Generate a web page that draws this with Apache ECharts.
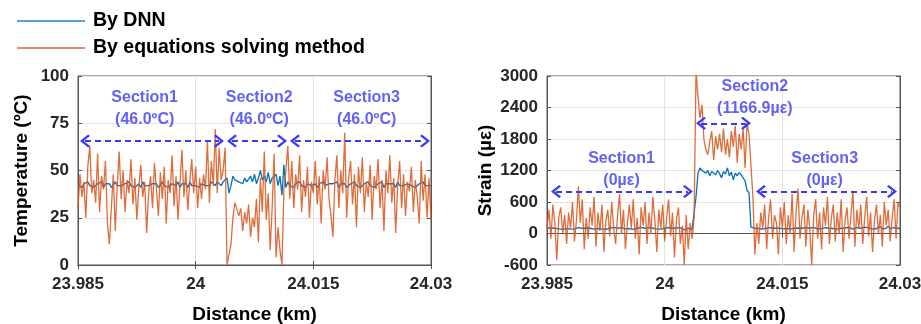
<!DOCTYPE html>
<html>
<head>
<meta charset="utf-8">
<script src="https://cdn.jsdelivr.net/npm/echarts@6/dist/echarts.min.js"></script>
<style>
  html, body { margin: 0; padding: 0; background: #fff; }
  #chart { width: 921px; height: 324px; }
</style>
</head>
<body>
<div id="chart"></div>
<script>
// Sampling grid along the fibre (km)
const distStart = 23.985;
const distStep = 0.00025;
const distTicks = ['23.985', '24', '24.015', '24.03'];
const tempTicks = ['0', '25', '50', '75', '100'];
const strainTicks = ['-600', '0', '600', '1200', '1800', '2400', '3000'];

// Temperature (°C) — DNN
const tempDnn = [
  42,43,41,43,42,44,42,43,41,42,
  43,42,44,41,43,42,43,41,42,44,
  42,43,42,41,43,42,44,42,43,41,
  42,43,41,44,42,43,42,41,43,42,
  43,41,42,44,42,43,41,42,43,42,
  42,44,41,43,42,43,41,44,42,43,
  42,43,41,43,44,42,43,42,44,43,
  42,44,43,42,44,45,46,38,42,47,
  45,46,44,45,43,46,44,45,47,44,
  48,43,46,50,45,47,44,49,43,46,
  45,48,42,47,37,53,41,44,42,43,
  41,43,42,44,42,43,41,43,42,42,
  42,43,41,43,42,44,42,41,43,42,
  43,42,44,41,43,42,43,41,42,43,
  42,44,42,43,41,42,43,42,44,42,
  43,41,42,43,42,44,41,43,42,43,
  42,43,41,44,42,43,42,41,43,44,
  42,43,41,42,43,42,44,42,43,42,42
];

// Temperature (°C) — equations solving method
const tempEq = [
  30,48,36,44,25,52,63,38,45,33,
  59,28,47,40,55,22,11,30,48,18,
  42,60,35,50,28,45,38,56,32,46,
  24,41,53,36,44,17,38,47,30,54,
  40,26,49,35,52,22,45,38,58,31,
  47,24,43,61,36,50,29,44,56,38,
  52,30,46,35,48,40,66,33,55,42,
  72,38,62,45,50,62,0,0,11,25,
  33,34,26,30,18,28,22,32,15,25,
  20,35,12,46,28,60,24,38,8,30,
  59,4,20,8,0,40,50,63,35,55,
  30,48,40,58,28,45,36,52,25,44,
  38,55,32,47,22,50,40,57,35,26,
  15,45,58,30,50,38,70,25,46,55,
  32,48,20,52,38,57,28,44,36,53,
  24,47,40,56,30,45,18,50,38,58,
  33,46,17,42,55,30,48,26,44,39,
  52,28,45,36,22,55,34,48,25,46,24
];

// Strain (µε) — DNN
const strainDnn = [
  100,90,110,80,100,120,90,100,80,110,
  95,100,85,115,90,100,110,80,100,95,
  105,90,100,120,85,100,95,110,90,100,
  80,105,100,90,115,95,100,85,110,100,
  90,120,95,100,80,105,100,90,115,95,
  100,85,110,95,100,120,90,100,85,105,
  100,90,110,95,100,80,105,95,110,90,
  70,85,100,90,80,95,700,1150,1250,1200,
  1230,1150,1200,1100,1180,1150,1120,1200,1140,1060,
  1180,1130,1250,1100,1170,1020,1150,1100,1160,1120,
  1150,1000,820,780,120,90,100,110,95,100,
  85,105,100,90,110,95,100,80,105,100,
  90,110,95,100,85,115,100,90,105,95,
  100,80,110,95,100,90,115,100,85,105,
  95,100,110,90,100,120,95,100,85,110,
  100,90,105,95,115,100,85,100,110,90,
  100,95,120,90,105,100,85,110,95,100,
  130,90,105,100,140,95,100,110,90,100,95
];

// Strain (µε) — equations solving method
const strainEq = [
  100,450,-100,550,200,-500,300,500,0,350,
  -200,400,100,600,-150,250,900,200,650,-300,
  300,-100,500,150,700,-250,400,50,550,-350,
  250,450,-50,600,100,-200,350,750,0,450,
  -300,200,550,100,650,-100,300,-400,500,150,
  600,-200,400,0,700,250,-350,450,100,550,
  -150,300,650,-50,400,-450,250,500,-200,150,
  -600,350,-300,200,-100,300,3100,2600,2200,2450,
  1800,1600,1500,1750,1950,1400,1850,1600,1900,1550,
  2000,1500,1800,1450,1950,1650,2050,1350,1900,1600,
  2000,1250,2100,1900,1300,700,-400,200,-200,400,
  100,550,-300,300,650,-100,350,200,-400,500,
  100,600,-200,350,0,750,-350,400,850,-100,
  300,550,-250,450,100,-600,350,650,-100,400,
  -300,500,150,700,-200,300,550,-150,400,0,
  650,-350,250,500,-100,350,800,-250,450,100,
  550,-200,300,700,-50,400,-350,250,550,0,
  350,-250,600,150,450,-150,300,650,-100,600,500
];

// Section annotations: [label line 1, line 2, label x, label y]
const tempSections = [
  ['Section1', '(46.0ºC)', 23.9935, 83],
  ['Section2', '(46.0ºC)', 24.0081, 83],
  ['Section3', '(46.0ºC)', 24.0218, 83]
];
// Dashed double arrows: [from, to] in km, at a common temperature level
const tempArrows = [[23.98589, 24.00297], [24.00463, 24.01101], [24.01266, 24.02924]];
const tempArrowLevel = 65.6;

const strainSections = [
  ['Section1', '(0µε)', 23.9945, 1215],
  ['Section2', '(1166.9µε)', 24.0115, 2590],
  ['Section3', '(0µε)', 24.0204, 1215]
];
// Dashed double arrows: [from, to, strain level]
const strainArrows = [[23.98615, 24.00297, 800], [24.00463, 24.01037, 2100], [24.01228, 24.02898, 800]];

const BLUE = '#0072BD';
const ORANGE = '#D95319';
const NOTE = '#3a3af5';
const FONT = 'Liberation Sans, Arial, sans-serif';

const pairs = ys => ys.map((v, i) => [distStart + i * distStep, v]);

const chevron = 'path://M0,10 L10,0 L20,10 L17.8,12.2 L10,4.4 L2.2,12.2 Z';
const legendLine = 'path://M0,0 L100,0 L100,3 L0,3 Z';

function arrowLines(segs, level) {
  return segs.map(s => [
    { coord: [s[0], s.length > 2 ? s[2] : level] },
    { coord: [s[1], s.length > 2 ? s[2] : level] }
  ]);
}

function sectionLabels(list) {
  return list.map(s => ({
    value: [s[2], s[3]],
    label: { formatter: s[0] + '\n' + s[1] }
  }));
}

const tickLabelStyle = { fontFamily: FONT, fontWeight: 'bold', fontSize: 17, color: '#262626' };
const axisNameStyle = { fontFamily: FONT, fontWeight: 'bold', fontSize: 19, color: '#000' };

function xAxisPair(gi) {
  const base = {
    type: 'value', gridIndex: gi, min: 23.985, max: 24.03, interval: 0.015,
    axisLine: { show: true, lineStyle: { color: '#555', width: 1 } },
    axisTick: { show: true, inside: true, length: 4, lineStyle: { color: '#555' } },
  };
  return [
    Object.assign({}, base, {
      position: 'bottom',
      name: 'Distance (km)', nameLocation: 'middle', nameGap: 40,
      nameTextStyle: axisNameStyle,
      splitLine: { show: true, lineStyle: { color: '#e3e3e3', width: 1 } },
      axisLabel: Object.assign({}, tickLabelStyle, {
        margin: 11,
        formatter: v => distTicks[Math.round((v - 23.985) / 0.015)]
      })
    }),
    Object.assign({}, base, { position: 'top', axisLabel: { show: false }, splitLine: { show: false } })
  ];
}

function yAxisPair(gi, min, max, interval, ticks, name, gap) {
  const base = {
    type: 'value', gridIndex: gi, min: min, max: max, interval: interval,
    axisLine: { show: true, lineStyle: { color: '#555', width: 1 } },
    axisTick: { show: true, inside: true, length: 4, lineStyle: { color: '#555' } },
  };
  return [
    Object.assign({}, base, {
      position: 'left',
      name: name, nameLocation: 'middle', nameGap: gap,
      nameTextStyle: axisNameStyle,
      splitLine: { show: true, lineStyle: { color: '#e3e3e3', width: 1 } },
      axisLabel: Object.assign({}, tickLabelStyle, {
        margin: 9,
        formatter: v => ticks[Math.round((v - min) / interval)]
      })
    }),
    Object.assign({}, base, { position: 'right', axisLabel: { show: false }, splitLine: { show: false } })
  ];
}

function arrowSeries(xi, yi, segs, level) {
  return {
    type: 'line', xAxisIndex: xi, yAxisIndex: yi, data: [], silent: true,
    markLine: {
      silent: true, animation: false,
      symbol: [chevron, chevron], symbolSize: [13, 10],
      lineStyle: { color: NOTE, width: 2, type: [6, 4] },
      label: { show: false },
      data: arrowLines(segs, level)
    }
  };
}

function labelSeries(xi, yi, list) {
  return {
    type: 'scatter', xAxisIndex: xi, yAxisIndex: yi, symbolSize: 0, silent: true,
    label: {
      show: true, position: 'inside', color: NOTE, fontFamily: FONT,
      fontWeight: 'bold', fontSize: 16, lineHeight: 22, align: 'center'
    },
    data: sectionLabels(list)
  };
}

const chart = echarts.init(document.getElementById('chart'));
chart.setOption({
  animation: false,
  backgroundColor: '#fff',
  legend: {
    left: 12, top: 6, orient: 'vertical',
    itemWidth: 68, itemHeight: 3, itemGap: 7,
    textStyle: { fontFamily: FONT, fontWeight: 'bold', fontSize: 19.5, color: '#000', padding: [0, 0, 0, 3] },
    data: [
      { name: 'By DNN', icon: legendLine, itemStyle: { color: '#5a9fd6' } },
      { name: 'By equations solving method', icon: legendLine, itemStyle: { color: '#ea8a5a' } }
    ]
  },
  grid: [
    { left: 78, right: 490, top: 76, bottom: 59, show: true, borderColor: '#555', borderWidth: 1,
      containLabel: false, outerBoundsMode: 'none' },
    { left: 547, right: 21, top: 76, bottom: 59, show: true, borderColor: '#555', borderWidth: 1,
      containLabel: false, outerBoundsMode: 'none' }
  ],
  xAxis: [].concat(xAxisPair(0), xAxisPair(1)),
  yAxis: [].concat(
    yAxisPair(0, 0, 100, 25, tempTicks, 'Temperature (ºC)', 47),
    yAxisPair(1, -600, 3000, 600, strainTicks, 'Strain (µε)', 52)
  ),
  series: [
    { name: 'By DNN', type: 'line', xAxisIndex: 0, yAxisIndex: 0, data: pairs(tempDnn),
      symbol: 'none', color: BLUE, lineStyle: { width: 1.3, color: BLUE } },
    { name: 'By equations solving method', type: 'line', xAxisIndex: 0, yAxisIndex: 0, data: pairs(tempEq),
      symbol: 'none', color: ORANGE, lineStyle: { width: 1.3, color: ORANGE, opacity: 0.85 } },
    { name: 'By DNN', type: 'line', xAxisIndex: 2, yAxisIndex: 2, data: pairs(strainDnn),
      symbol: 'none', color: BLUE, lineStyle: { width: 1.3, color: BLUE } },
    { name: 'By equations solving method', type: 'line', xAxisIndex: 2, yAxisIndex: 2, data: pairs(strainEq),
      symbol: 'none', color: ORANGE, lineStyle: { width: 1.3, color: ORANGE, opacity: 0.85 } },
    arrowSeries(0, 0, tempArrows, tempArrowLevel),
    arrowSeries(2, 2, strainArrows, 0),
    labelSeries(0, 0, tempSections),
    labelSeries(2, 2, strainSections)
  ]
});
</script>
</body>
</html>
